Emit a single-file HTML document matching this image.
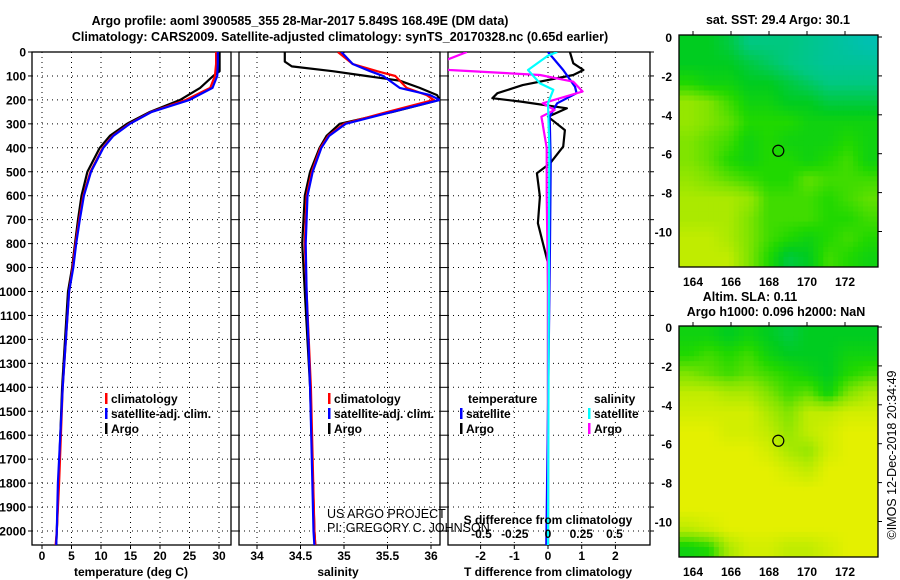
<!DOCTYPE html>
<html><head><meta charset="utf-8">
<style>
body{margin:0;background:#fff;}
svg{display:block;font-family:"Liberation Sans",sans-serif;}
.b{font-weight:bold;font-size:12.5px;}
.t{font-weight:bold;font-size:12px;}
.n{font-weight:normal;font-size:12.5px;}
</style></head>
<body>
<svg id="fig" width="900" height="580" viewBox="0 0 900 580" xmlns="http://www.w3.org/2000/svg">
<text class="b" x="300" y="25" text-anchor="middle">Argo profile: aoml 3900585_355 28-Mar-2017 5.849S 168.49E (DM data)</text>
<text class="b" x="340" y="41" text-anchor="middle">Climatology: CARS2009. Satellite-adjusted climatology: synTS_20170328.nc (0.65d earlier)</text>
<text class="b" x="778" y="24" text-anchor="middle">sat. SST: 29.4 Argo: 30.1</text>
<text class="b" x="750" y="301" text-anchor="middle">Altim. SLA: 0.11</text>
<text class="b" x="776" y="316" text-anchor="middle">Argo h1000: 0.096 h2000: NaN</text>
<text x="896" y="455" font-size="12.5" text-anchor="middle" transform="rotate(-90 896 455)">©IMOS 12-Dec-2018 20:34:49</text>
<g id="plots"></g>
</svg>
<script>
// ---- data ----
const depthArgoT=[0,80,100,150,200,250,300,350,400,500,600,700,800,900,1000,1400,2000,2060];
const tempArgo=[30.1,30.1,29.0,26.8,23.4,18.3,14.4,11.5,9.8,7.7,6.7,6.1,5.6,5.1,4.4,3.4,2.5,2.4];
const depthClim=[0,50,100,150,200,250,300,350,400,500,600,700,800,900,1000,1400,1800,2000,2060];
const tempClim=[29.5,29.5,29.3,28.5,24.4,18.5,14.8,12.0,10.3,8.2,7.0,6.3,5.7,5.2,4.6,3.5,2.9,2.5,2.3];
const tempSat=[29.8,29.8,29.7,28.9,25.0,18.6,14.9,12.1,10.4,8.3,7.1,6.4,5.8,5.3,4.6,3.5,2.7,2.5,2.4];
const depthArgoS=[0,40,60,80,100,120,150,180,200,250,300,350,400,500,600,800,1000,1400,2000,2060];
const salArgo=[34.32,34.32,34.4,34.87,35.26,35.64,35.87,36.07,36.1,35.56,34.95,34.8,34.72,34.61,34.55,34.52,34.55,34.61,34.66,34.67];
const depthClimS=[0,50,80,100,150,180,200,250,300,350,400,500,600,800,1000,1400,2000,2060];
const salClim=[34.93,35.1,35.38,35.59,35.72,35.95,36.03,35.5,35.0,34.82,34.73,34.63,34.57,34.55,34.57,34.62,34.66,34.67];
const salSat=[34.97,35.1,35.3,35.45,35.64,35.99,36.1,35.55,35.02,34.83,34.74,34.64,34.58,34.56,34.57,34.61,34.65,34.66];
const depthDT=[0,47,75,96,138,172,193,207,235,270,326,395,465,506,604,715,798,882,1500,2060];
const dTArgo=[0.65,0.75,1.05,0.75,-0.75,-1.5,-1.65,-0.8,0.56,0,0.5,0.45,0.06,-0.33,-0.24,-0.3,-0.15,0,0,0];
const depthDTs=[0,75,145,172,214,270,465,800,1500,2060];
const dTSat=[0,0.45,0.8,0.85,0.27,0.05,0.08,0.06,0,-0.05];
const depthDS=[0,30,50,70,75,96,124,165,214,242,270,400,600,1000,2060];
const dSArgo=[-0.61,-0.75,-0.85,-0.8,-0.74,-0.06,0.19,0.26,-0.04,0.05,-0.05,-0.01,-0.01,0,0];
const depthDSs=[0,15,75,131,158,214,400,2060];
const dSSat=[0.07,0,-0.15,-0.06,0.04,0,0.01,0];
const depthTicks=[0,100,200,300,400,500,600,700,800,900,1000,1100,1200,1300,1400,1500,1600,1700,1800,1900,2000];
const tTicks=[0,5,10,15,20,25,30];
const sTicks=[34,34.5,35,35.5,36];
const sTickLabels=["34","34.5","35","35.5","36"];
const dtTicks=[-2,-1,0,1,2];
const dsTicks=[-0.5,-0.25,0,0.25,0.5];
const dsTickLabels=["-0.5","-0.25","0","0.25","0.5"];
const latTicks=[0,-2,-4,-6,-8,-10];
const lonTicks=[164,166,168,170,172];
const sstGrid=[
[.45,.45,.4,.3,.3,.3,.25,.2,.15,.1],
[.45,.45,.45,.4,.35,.3,.25,.2,.2,.2],
[.55,.5,.5,.45,.45,.4,.35,.3,.3,.3],
[.75,.7,.6,.5,.5,.45,.45,.4,.4,.4],
[.75,.7,.65,.55,.55,.55,.5,.5,.5,.5],
[.7,.65,.6,.5,.55,.5,.5,.5,.55,.5],
[.7,.65,.55,.5,.55,.55,.5,.55,.6,.5],
[.75,.7,.65,.6,.55,.55,.65,.6,.6,.6],
[.8,.8,.8,.75,.6,.6,.6,.55,.6,.65],
[.8,.8,.8,.7,.6,.6,.6,.55,.55,.6],
[.85,.85,.8,.7,.6,.55,.5,.55,.6,.55],
[.85,.85,.85,.7,.55,.4,.45,.6,.55,.5]];
const slaGrid=[
[.5,.5,.45,.5,.45,.4,.45,.45,.45,.45],
[.55,.6,.55,.6,.5,.45,.45,.45,.5,.5],
[.7,.65,.6,.65,.6,.55,.5,.45,.55,.6],
[.85,.85,.8,.8,.7,.6,.65,.5,.7,.8],
[.9,.9,.9,.9,.8,.7,.85,.85,.9,.9],
[.95,.95,.9,.9,.85,.75,.85,.9,.95,.95],
[.95,.95,.95,.95,.9,.8,.75,.9,.95,.95],
[.95,.95,.95,.95,.95,.9,.85,.95,.95,.95],
[.95,.95,.95,.95,.95,.95,.95,.95,.95,.95],
[.95,.95,.95,.95,.95,.95,.95,.95,.95,.95],
[.85,.9,.95,.95,.95,.95,.95,.95,.95,.95],
[.5,.55,.8,.9,.9,.85,.85,.9,.95,.95]];
const argoLon=168.49, argoLat=-5.849;

// ---- drawing ----
const NS="http://www.w3.org/2000/svg";
const G=document.getElementById('plots');
function el(tag,attrs,parent){const e=document.createElementNS(NS,tag);for(const k in attrs)e.setAttribute(k,attrs[k]);(parent||G).appendChild(e);return e;}
const yD=d=>52+d*0.2395;
const PY0=52,PY1=545;
function panel(x0,x1,name){
  const r=el('rect',{x:x0,y:PY0,width:x1-x0,height:PY1-PY0,fill:'none',stroke:'#000','stroke-width':1.3});
  
  
  depthTicks.forEach(d=>{
    const l=el('line',{x1:x0,x2:x1,y1:yD(d),y2:yD(d),stroke:'#000','stroke-width':1,'stroke-dasharray':'1 4'});
    
    
    const t=el('line',{x1:x0-4,x2:x0,y1:yD(d),y2:yD(d),stroke:'#000'});
    
    
    const t2=el('line',{x1:x1,x2:x1+4,y1:yD(d),y2:yD(d),stroke:'#000'});
    
    
  });
}
function vgrid(xs,fx,labels,y,name){
  xs.forEach((v,i)=>{
    const l=el('line',{x1:fx(v),x2:fx(v),y1:PY0,y2:PY1,stroke:'#000','stroke-width':1,'stroke-dasharray':'1 4'});
    
    
    const tk=el('line',{x1:fx(v),x2:fx(v),y1:PY1,y2:PY1+4,stroke:'#000'});
    
    
    const t=el('text',{x:fx(v),y:y,'text-anchor':'middle',class:'t'});
    t.textContent=labels[i];
    
    
  });
}
function line(xs,ds,fx,color,name,clip){
  const pts=xs.map((v,i)=>fx(v).toFixed(1)+','+yD(ds[i]).toFixed(1)).join(' ');
  const p=el('polyline',{points:pts,fill:'none',stroke:color,'stroke-width':2.2,'stroke-linejoin':'round'});
  if(clip)p.setAttribute('clip-path','url(#'+clip+')');
  
  
}
function label(x,y,txt,name,cls,anchor){
  const t=el('text',{x:x,y:y,class:cls||'t','text-anchor':anchor||'start'});
  t.textContent=txt;
  
  
  return t;
}
function legend(x,y,color,txt,name){
  const r=el('rect',{x:x,y:y-10,width:2.5,height:11,fill:color});
  
  
  label(x+6,y,txt,name);
}
const defs=el('defs',{});
[['c1',32,52,199,493],['c2',239,52,201,493],['c3',448,52,202,493],['cm1',679,35,199,232],['cm2',679,326,199,231]].forEach(c=>{
  const cp=el('clipPath',{id:c[0]},defs);el('rect',{x:c[1],y:c[2],width:c[3],height:c[4]},cp);
});

depthTicks.forEach(d=>{
  const t=el('text',{x:26,y:yD(d)+4.5,'text-anchor':'end',class:'t'});
  t.textContent=d;
  
  
});

// Panel 1 temperature
const fT=v=>42+v*5.9;
panel(32,231,'temperature-panel');
vgrid(tTicks,fT,tTicks.map(String),560,'temperature');
line(tempArgo,depthArgoT,fT,'#000','temperature-argo-line','c1');
line(tempClim,depthClim,fT,'#f00','temperature-climatology-line','c1');
line(tempSat,depthClim,fT,'#00f','temperature-satellite-line','c1');
label(131,576,'temperature (deg C)','temperature-axis-title','t','middle');
legend(105,403,'#f00','climatology','temperature-legend-climatology');
legend(105,418,'#00f','satellite-adj. clim.','temperature-legend-satellite');
legend(105,433,'#000','Argo','temperature-legend-argo');

// Panel 2 salinity
const fS=v=>257+(v-34)*87;
panel(239,440,'salinity-panel');
vgrid(sTicks,fS,sTickLabels,560,'salinity');
line(salArgo,depthArgoS,fS,'#000','salinity-argo-line','c2');
line(salClim,depthClimS,fS,'#f00','salinity-climatology-line','c2');
line(salSat,depthClimS,fS,'#00f','salinity-satellite-line','c2');
label(338,576,'salinity','salinity-axis-title','t','middle');
legend(328,403,'#f00','climatology','salinity-legend-climatology');
legend(328,418,'#00f','satellite-adj. clim.','salinity-legend-satellite');
legend(328,433,'#000','Argo','salinity-legend-argo');
label(327,518,'US ARGO PROJECT','project-credit','n','start');
label(327,532,'PI: GREGORY C. JOHNSON','pi-credit','n','start');

// Panel 3 differences
const fDT=v=>548+v*33.7;
const fDS=v=>548+v*133;
panel(448,650,'difference-panel');
vgrid(dtTicks,fDT,dtTicks.map(String),560,'t-difference');
line(dTArgo,depthDT,fDT,'#000','t-difference-argo-line','c3');
line(dTSat,depthDTs,fDT,'#00f','t-difference-satellite-line','c3');
line(dSArgo,depthDS,fDS,'#f0f','s-difference-argo-line','c3');
line(dSSat,depthDSs,fDS,'#0ff','s-difference-satellite-line','c3');
dsTicks.forEach((v,i)=>{
  const t=el('text',{x:fDS(v),y:538,'text-anchor':'middle',class:'t'});
  t.textContent=dsTickLabels[i];
  
  
});
label(548,524,'S difference from climatology','s-difference-axis-title','t','middle');
label(548,576,'T difference from climatology','t-difference-axis-title','t','middle');
label(468,403,'temperature','legend-temperature-heading');
label(594,403,'salinity','legend-salinity-heading');
legend(460,418,'#00f','satellite','t-difference-legend-satellite');
legend(460,433,'#000','Argo','t-difference-legend-argo');
legend(588,418,'#0ff','satellite','s-difference-legend-satellite');
legend(588,433,'#f0f','Argo','s-difference-legend-argo');

// Maps
const stops=[[0.1,[0,192,176]],[0.3,[0,200,128]],[0.45,[0,204,32]],[0.55,[32,216,0]],[0.7,[128,228,0]],[0.85,[192,236,0]],[0.95,[228,240,0]]];
function cmap(v){
  if(v<=stops[0][0])return 'rgb('+stops[0][1]+')';
  for(let i=1;i<stops.length;i++){if(v<=stops[i][0]){const a=stops[i-1],b=stops[i],f=(v-a[0])/(b[0]-a[0]);return 'rgb('+a[1].map((c,k)=>Math.round(c+(b[1][k]-c)*f)).join(',')+')';}}
  return 'rgb('+stops[stops.length-1][1]+')';
}
function sample(grid,u,v){
  const rows=grid.length,cols=grid[0].length;
  const x=Math.max(0,Math.min(cols-1,u*cols-0.5)),y=Math.max(0,Math.min(rows-1,v*rows-0.5));
  const x0=Math.floor(x),y0=Math.floor(y),x1=Math.min(cols-1,x0+1),y1=Math.min(rows-1,y0+1),fx=x-x0,fy=y-y0;
  return grid[y0][x0]*(1-fx)*(1-fy)+grid[y0][x1]*fx*(1-fy)+grid[y1][x0]*(1-fx)*fy+grid[y1][x1]*fx*fy;
}
function map(grid,x0,y0,y0lat,h,name,clip){
  const fx=lon=>x0+14+(lon-164)*19;
  const fy=lat=>y0lat-lat*19.45;
  const w=199;
  const g=el('g',{'clip-path':'url(#'+clip+')'});
  
  
  const NC=40,NR=46;
  for(let r=0;r<NR;r++)for(let c=0;c<NC;c++){
    const v=sample(grid,(c+0.5)/NC,(r+0.5)/NR);
    const cell=el('rect',{x:(x0+c*w/NC).toFixed(2),y:(y0+r*h/NR).toFixed(2),width:(w/NC+0.5).toFixed(2),height:(h/NR+0.5).toFixed(2),fill:cmap(v)},g);
    
    
  }
  const fr=el('rect',{x:x0,y:y0,width:w,height:h,fill:'none',stroke:'#000','stroke-width':1.3});
  
  
  lonTicks.forEach(l=>{
    const tk=el('line',{x1:fx(l),x2:fx(l),y1:y0,y2:y0-4,stroke:'#000'});
    
    
    const t=el('text',{x:fx(l),y:y0+h+19,'text-anchor':'middle',class:'t'});
    t.textContent=l;
    
    
  });
  latTicks.forEach(l=>{
    const tk=el('line',{x1:x0+w,x2:x0+w+4,y1:fy(l),y2:fy(l),stroke:'#000'});
    
    
    const t=el('text',{x:x0-7,y:fy(l)+5,'text-anchor':'end',class:'t'});
    t.textContent=l;
    
    
  });
  const c=el('circle',{cx:fx(argoLon),cy:fy(argoLat),r:5.5,fill:'none',stroke:'#000','stroke-width':1.2});
  
  
}
map(sstGrid,679,35,37,232,'sst-map','cm1');
map(slaGrid,679,326,327,231,'sla-map','cm2');
</script>
</body></html>
